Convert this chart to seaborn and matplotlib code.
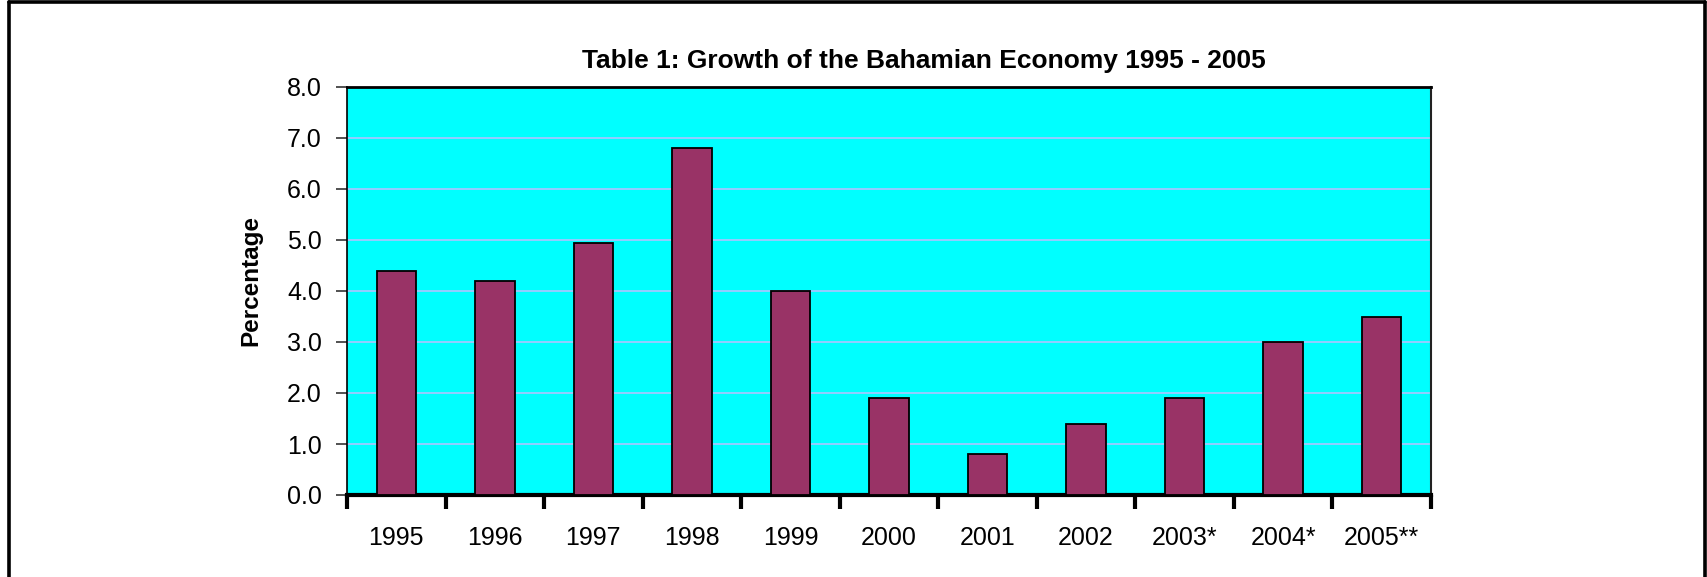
import numpy as np
import pandas as pd
import matplotlib
matplotlib.use("Agg")
import matplotlib.pyplot as plt
from matplotlib.lines import Line2D
import seaborn as sns

years = ["1995", "1996", "1997", "1998", "1999", "2000", "2001", "2002", "2003*", "2004*", "2005**"]
growth = [4.4, 4.2, 4.95, 6.8, 4.0, 1.9, 0.8, 1.4, 1.9, 3.0, 3.5]
yticks = [0.0, 1.0, 2.0, 3.0, 4.0, 5.0, 6.0, 7.0, 8.0]
title = "Table 1: Growth of the Bahamian Economy 1995 - 2005"
ylabel = "Percentage"

sns.set_style("white")
plt.rcParams["font.family"] = ["Liberation Sans", "DejaVu Sans"]
plt.rcParams["text.color"] = "black"
plt.rcParams["axes.labelcolor"] = "black"
plt.rcParams["xtick.color"] = "black"
plt.rcParams["ytick.color"] = "black"

df = pd.DataFrame({"year": years, "growth": growth})

W, H = 1708, 577
fig = plt.figure(figsize=(W / 100, H / 100), dpi=100)
fig.patch.set_facecolor("white")
ax = fig.add_axes([347 / W, 1 - 495 / H, 1084 / W, 408 / H])
ax.set_facecolor("#00FFFF")

sns.barplot(data=df, x="year", y="growth", color="#993366", edgecolor="black",
            linewidth=1.3, width=0.4, saturation=1, ax=ax, zorder=3)

ax.set_xlim(-0.5, len(years) - 0.5)
ax.set_ylim(0, 8)
ax.set_yticks(yticks)
ax.set_yticklabels([f"{v:.1f}" for v in yticks])
ax.yaxis.grid(True, color="#a0c8ff", linewidth=1.3, zorder=0)
ax.set_axisbelow(True)

ax.set_xticks(range(len(years)))
ax.set_xticklabels(years)
ax.set_xticks(np.arange(-0.5, len(years), 1), minor=True)
ax.tick_params(axis="x", which="major", bottom=True, length=0, pad=22, labelsize=18,
               labelcolor="black")
ax.tick_params(axis="x", which="minor", bottom=True, length=10, width=3, color="black",
               direction="out")
ax.tick_params(axis="y", length=8, width=1.2, color="#333333", pad=10, labelsize=18,
               left=True, labelcolor="black")

ax.set_xlabel("")
ax.set_ylabel(ylabel, fontsize=17.5, fontweight="bold", color="black")
ax.yaxis.set_label_coords(-0.078, 0.525)

for s in ["top", "right", "left", "bottom"]:
    ax.spines[s].set_visible(True)
ax.spines["bottom"].set_linewidth(3)
ax.spines["bottom"].set_color("black")
ax.spines["top"].set_linewidth(2)
ax.spines["top"].set_color("black")
ax.spines["right"].set_linewidth(1.5)
ax.spines["right"].set_color("#222222")
ax.spines["left"].set_linewidth(1.2)
ax.spines["left"].set_color("black")

fig.text(924 / W, 1 - 68 / H, title, ha="center", va="baseline",
         fontsize=19, fontweight="bold", color="black")

# outer frame (left, top, right)
lx, rx, ty = 9 / W, 1705.5 / W, 1 - 1.7 / H
fig.add_artist(Line2D([lx, lx], [0, ty], transform=fig.transFigure, color="black", linewidth=2.6))
fig.add_artist(Line2D([lx, rx], [ty, ty], transform=fig.transFigure, color="black", linewidth=2.6))
fig.add_artist(Line2D([rx, rx], [0, ty], transform=fig.transFigure, color="black", linewidth=2.6))

fig.savefig("out.png", dpi=100, facecolor="white")
